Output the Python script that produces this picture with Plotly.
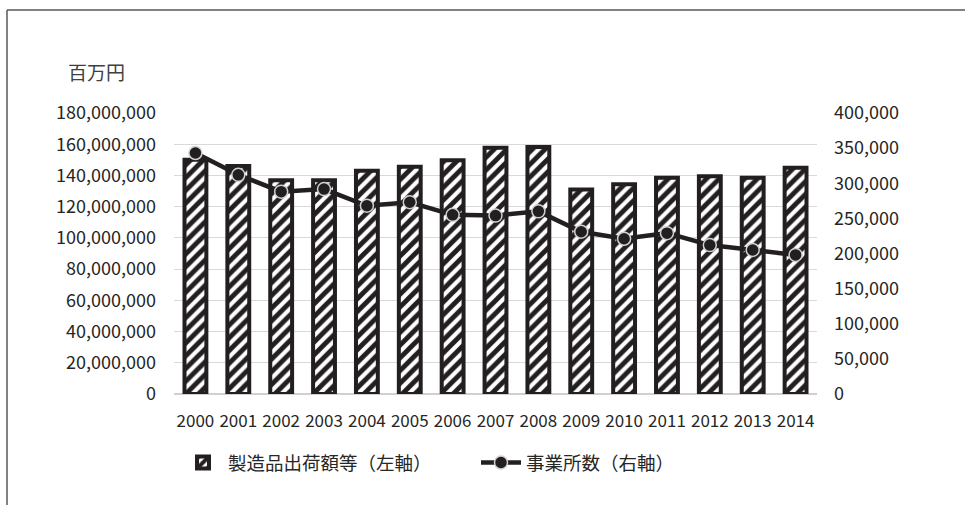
import plotly.graph_objects as go

years = [str(y) for y in range(2000, 2015)]
shipments = [150.0e6, 146.0e6, 137.0e6, 137.0e6, 143.0e6, 145.5e6, 149.7e6, 157.8e6,
             158.3e6, 131.0e6, 134.4e6, 138.6e6, 139.5e6, 138.6e6, 145.0e6]
establishments = [343000, 312000, 288000, 291700, 268000, 273000, 255000, 254000,
                  260000, 231000, 221000, 229000, 212000, 205000, 198000]
left_ticks = list(range(0, 180_000_001, 20_000_000))
right_ticks = list(range(0, 400_001, 50_000))

FONT = "Noto Sans CJK JP"
TXT = "#262626"
INK = "#231f20"

# plot area in pixels
L, R, T, B = 174, 817, 113, 394
W, H = 965, 505

fig = go.Figure()
fig.add_trace(go.Bar(
    x=years, y=shipments, name="製造品出荷額等（左軸）",
    marker=dict(color="white",
                line=dict(color=INK, width=4),
                pattern=dict(shape="/", fgcolor=INK, bgcolor="white", size=9,
                             solidity=0.55, fgopacity=1)),
    yaxis="y",
))
fig.add_trace(go.Scatter(
    x=years, y=establishments, name="事業所数（右軸）", mode="lines+markers",
    line=dict(color=INK, width=4.5),
    marker=dict(size=13, color=INK, line=dict(color="#d0d0d0", width=1.5)),
    yaxis="y2",
))

pw, ph = R - L, B - T
def px(x):
    return (x - L) / pw
def py(y):
    return (B - y) / ph

fig.update_layout(
    width=W, height=H,
    margin=dict(l=L, r=W - R, t=T, b=H - B, pad=0),
    paper_bgcolor="white", plot_bgcolor="white",
    font=dict(family=FONT, color=TXT, size=17),
    bargap=0.49,
    showlegend=True,
    xaxis=dict(type="category", range=[-0.5, 14.5], autorange=False,
               showgrid=False, showline=False, zeroline=False,
               ticks="", tickfont=dict(size=17, color=TXT), ticklabelstandoff=15),
    yaxis=dict(range=[0, 180_000_000], tickvals=left_ticks,
               ticktext=[f"{v:,}" for v in left_ticks],
               showgrid=True, gridcolor="#d9d9d9", gridwidth=1,
               zeroline=True, zerolinecolor="#d0d0d0", zerolinewidth=1.5,
               showline=False, ticks="", tickfont=dict(size=18, color=TXT),
               ticklabelstandoff=17),
    yaxis2=dict(range=[0, 400_000], tickvals=right_ticks,
                ticktext=[f"{v:,}" for v in right_ticks],
                overlaying="y", side="right", showgrid=False, zeroline=False,
                showline=False, ticks="", tickfont=dict(size=18, color=TXT),
                ticklabelstandoff=16),
    legend=dict(orientation="h", x=px(178), xanchor="left", y=py(463), yanchor="middle",
                font=dict(size=18.5, color=TXT), bgcolor="rgba(0,0,0,0)",
                entrywidth=243, itemwidth=40, traceorder="normal"),
    annotations=[dict(text="百万円", x=px(66), y=py(72), xref="paper", yref="paper",
                      xanchor="left", yanchor="middle", showarrow=False,
                      font=dict(size=19, color="#404040", family=FONT))],
    shapes=[
        dict(type="line", xref="paper", yref="paper", x0=px(7), x1=px(W + 5),
             y0=py(10), y1=py(10), line=dict(color="#595959", width=1.5)),
        dict(type="line", xref="paper", yref="paper", x0=px(7), x1=px(7),
             y0=py(10), y1=py(H + 5), line=dict(color="#595959", width=1.5)),
    ],
)

fig.write_html("out.html")
